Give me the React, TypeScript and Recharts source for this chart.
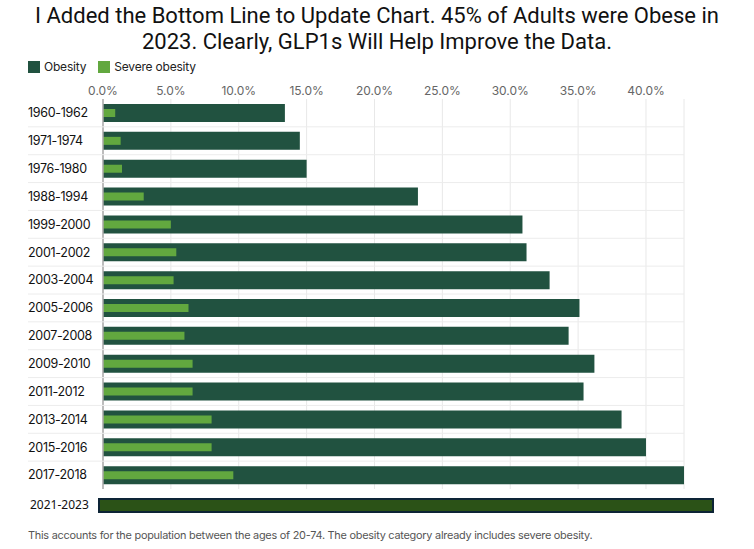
import { Bar, BarChart, CartesianGrid, XAxis, YAxis } from 'recharts'

const PERIODS = [
  '1960-1962',
  '1971-1974',
  '1976-1980',
  '1988-1994',
  '1999-2000',
  '2001-2002',
  '2003-2004',
  '2005-2006',
  '2007-2008',
  '2009-2010',
  '2011-2012',
  '2013-2014',
  '2015-2016',
  '2017-2018',
]
const OBESITY = [13.4, 14.5, 15.0, 23.2, 30.9, 31.2, 32.9, 35.1, 34.3, 36.2, 35.4, 38.2, 40.0, 42.8]
const SEVERE = [0.9, 1.3, 1.4, 3.0, 5.0, 5.4, 5.2, 6.3, 6.0, 6.6, 6.6, 8.0, 8.0, 9.6]
const X_TICKS = [0, 5, 10, 15, 20, 25, 30, 35, 40]

const ADDED_PERIOD = ['2021-2023']
const ADDED_OBESITY = [45]

const FONT = 'Inter, "Noto Sans", sans-serif'
const DARK = '#215240'
const LIGHT = '#62a83f'

const data = PERIODS.map((period, i) => ({ period, obesity: OBESITY[i], severe: SEVERE[i] }))
const addedData = ADDED_PERIOD.map((period, i) => ({ period, obesity: ADDED_OBESITY[i] }))

function PeriodTick(props: any) {
  const { y, payload, index } = props
  const half = payload.offset ?? 14
  return (
    <g>
      {index > 0 && <line x1={28} x2={684} y1={y - half} y2={y - half} stroke="#ececec" />}
      <text x={28} y={y} dy="0.35em" textAnchor="start" fontSize={12.5} fill="#111" fontFamily={FONT} letterSpacing={-0.3}>
        {payload.value}
      </text>
    </g>
  )
}

function AddedTick(props: any) {
  const { y, payload } = props
  return (
    <text x={30} y={y} dy="0.35em" textAnchor="start" fontSize={12} fill="#111" fontFamily='"Noto Sans", sans-serif'>
      {payload.value}
    </text>
  )
}

export default function App() {
  return (
    <div style={{ position: 'absolute', left: 0, top: 0, width: 754, height: 549, background: '#fff', overflow: 'hidden' }}>
      <div
        style={{
          position: 'absolute',
          top: 3,
          left: 0,
          width: 754,
          textAlign: 'center',
          fontFamily: 'Roboto, "Noto Sans", sans-serif',
          fontSize: 22,
          lineHeight: '26px',
          color: '#111',
          whiteSpace: 'nowrap',
        }}
      >
        I Added the Bottom Line to Update Chart. 45% of Adults were Obese in
        <br />
        2023. Clearly, GLP1s Will Help Improve the Data.
      </div>

      <div style={{ position: 'absolute', top: 59, left: 28, display: 'flex', alignItems: 'center', fontFamily: FONT, fontSize: 12, color: '#222', letterSpacing: -0.2 }}>
        <span style={{ width: 12, height: 12, background: DARK, display: 'inline-block', marginRight: 4 }} />
        <span style={{ marginRight: 12 }}>Obesity</span>
        <span style={{ width: 12, height: 12, background: LIGHT, display: 'inline-block', marginRight: 4 }} />
        <span>Severe obesity</span>
      </div>

      <div style={{ position: 'absolute', top: 0, left: 0 }}>
        <BarChart layout="vertical" width={754} height={500} data={data} margin={{ top: 79, right: 70, left: 28, bottom: 11 }}>
          <CartesianGrid horizontal={false} stroke="#e8e8e8" />
          <XAxis
            type="number"
            orientation="top"
            height={20}
            domain={[0, 'dataMax']}
            ticks={X_TICKS}
            tickFormatter={(v: number) => `${v.toFixed(1)}%`}
            axisLine={false}
            tickLine={false}
            tickSize={0}
            tickMargin={4}
            tick={{ fill: '#666', fontSize: 12, fontFamily: FONT }}
          />
          <YAxis
            yAxisId="o"
            type="category"
            dataKey="period"
            width={75}
            axisLine={{ stroke: '#aaa', strokeWidth: 1.5 }}
            tickLine={false}
            tick={<PeriodTick />}
          />
          <YAxis yAxisId="s" type="category" dataKey="period" hide />
          <Bar yAxisId="o" dataKey="obesity" barSize={18} fill={DARK} isAnimationActive={false} />
          <Bar yAxisId="s" dataKey="severe" barSize={8} fill={LIGHT} isAnimationActive={false} />
        </BarChart>
      </div>

      <div style={{ position: 'absolute', top: 491, left: 0 }}>
        <BarChart layout="vertical" width={754} height={28} data={addedData} margin={{ top: 0, right: 41, left: 30, bottom: 0 }}>
          <XAxis type="number" domain={[0, 45]} hide />
          <YAxis type="category" dataKey="period" width={69} axisLine={false} tickLine={false} tick={<AddedTick />} />
          <Bar dataKey="obesity" barSize={13} fill="#2b5217" stroke="#0d2436" strokeWidth={2} isAnimationActive={false} />
        </BarChart>
      </div>

      <div style={{ position: 'absolute', top: 528, left: 28, fontFamily: FONT, fontSize: 10.9, color: '#555', letterSpacing: -0.25, whiteSpace: 'nowrap' }}>
        This accounts for the population between the ages of 20-74. The obesity category already includes severe obesity.
      </div>
    </div>
  )
}
